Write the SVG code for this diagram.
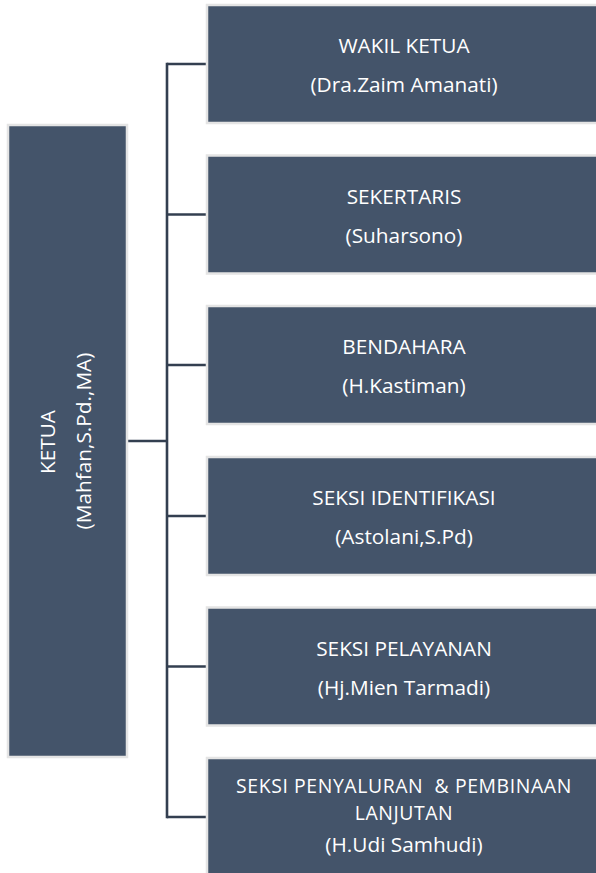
<svg xmlns="http://www.w3.org/2000/svg" width="596" height="873" viewBox="0 0 596 873">
<style>
.box{fill:#44546a;stroke:#e4e4e4;stroke-width:2.5}
.t{fill:#ffffff;font-family:"Open Sans","Liberation Sans",sans-serif;font-size:20.8px;text-anchor:middle}
.s{font-size:19.4px;letter-spacing:0.6px}
.c{stroke:#333f50;stroke-width:2.6;fill:none}
</style>
<rect width="596" height="873" fill="#ffffff"/>
<g id="connectors">
<line class="c" x1="167" y1="62.7" x2="167" y2="818.3"/>
<line class="c" x1="127" y1="441" x2="167" y2="441"/>
<line class="c" x1="167" y1="64" x2="207" y2="64"/>
<line class="c" x1="167" y1="214.5" x2="207" y2="214.5"/>
<line class="c" x1="167" y1="365" x2="207" y2="365"/>
<line class="c" x1="167" y1="516" x2="207" y2="516"/>
<line class="c" x1="167" y1="666.5" x2="207" y2="666.5"/>
<line class="c" x1="167" y1="817" x2="207" y2="817"/>
</g>
<g id="ketua">
<rect class="box" x="8" y="125" width="119" height="632"/>
<text class="t" transform="translate(55,442) rotate(-90)">KETUA</text>
<text class="t" transform="translate(90.5,441) rotate(-90)">(Mahfan,S.Pd.,MA)</text>
</g>
<g id="wakil">
<rect class="box" x="207" y="5" width="400" height="118"/>
<text class="t" x="404" y="53">WAKIL KETUA</text>
<text class="t" x="404" y="92">(Dra.Zaim Amanati)</text>
</g>
<g id="sekertaris">
<rect class="box" x="207" y="155.5" width="400" height="118"/>
<text class="t" x="404" y="203.5">SEKERTARIS</text>
<text class="t" x="404" y="242.5">(Suharsono)</text>
</g>
<g id="bendahara">
<rect class="box" x="207" y="306" width="400" height="118"/>
<text class="t" x="404" y="354">BENDAHARA</text>
<text class="t" x="404" y="393">(H.Kastiman)</text>
</g>
<g id="identifikasi">
<rect class="box" x="207" y="457" width="400" height="118"/>
<text class="t" x="404" y="505">SEKSI IDENTIFIKASI</text>
<text class="t" x="404" y="544">(Astolani,S.Pd)</text>
</g>
<g id="pelayanan">
<rect class="box" x="207" y="607.5" width="400" height="118"/>
<text class="t" x="404" y="655.5">SEKSI PELAYANAN</text>
<text class="t" x="404" y="694.5">(Hj.Mien Tarmadi)</text>
</g>
<g id="penyaluran">
<rect class="box" x="207" y="758" width="400" height="130"/>
<text class="t s" x="404" y="793" xml:space="preserve">SEKSI PENYALURAN  &amp; PEMBINAAN</text>
<text class="t s" x="404" y="820">LANJUTAN</text>
<text class="t" x="404" y="852">(H.Udi Samhudi)</text>
</g>
</svg>
